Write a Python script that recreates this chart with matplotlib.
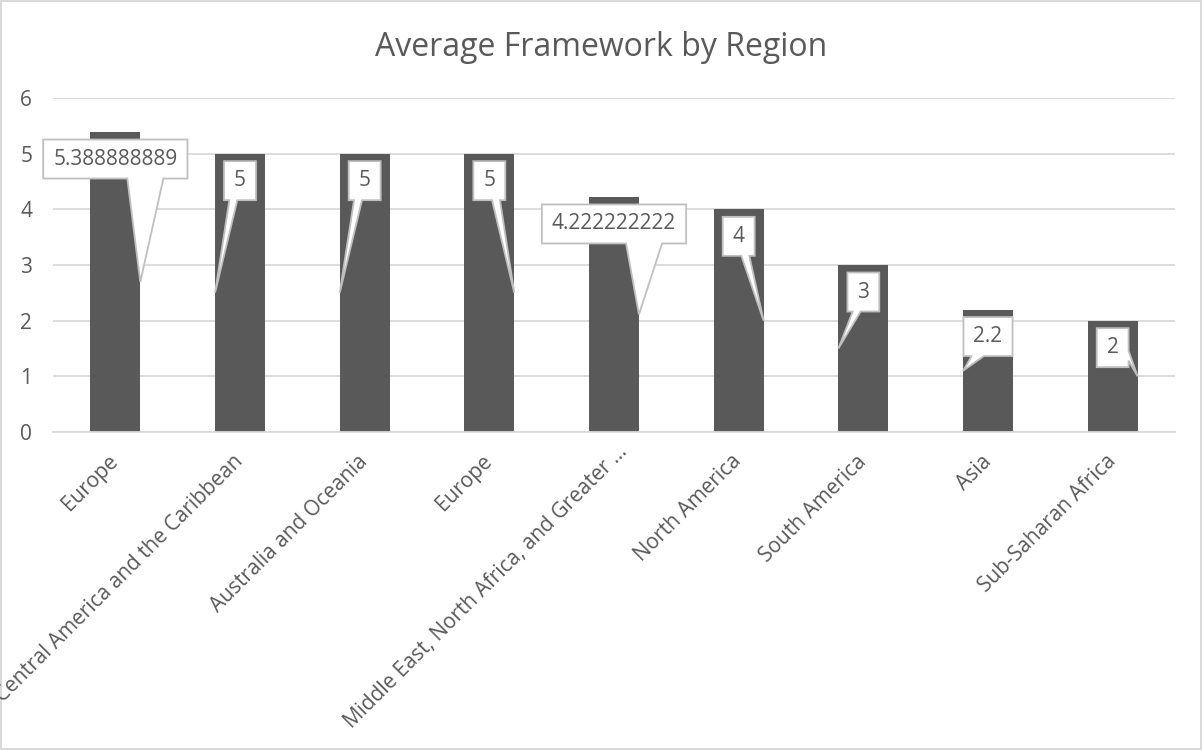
import matplotlib
matplotlib.use("Agg")
import matplotlib.pyplot as plt
import matplotlib.transforms as mtransforms
import numpy as np
from matplotlib.patches import Polygon

plt.rcParams['font.family'] = ['Open Sans', 'DejaVu Sans']

regions = ["Europe", "Central America and the Caribbean", "Australia and Oceania",
           "Europe", "Middle East, North Africa, and Greater ...", "North America",
           "South America", "Asia", "Sub-Saharan Africa"]
avg_framework = [5.388888889, 5, 5, 5, 4.222222222, 4, 3, 2.2, 2]
value_labels = ["5.388888889", "5", "5", "5", "4.222222222", "4", "3", "2.2", "2"]
# which bar edge each callout points at
tip_side = ["right", "left", "left", "right", "right", "right", "left", "left", "right"]

TXT = "#595959"
GRID = "#d9d9d9"
BAR = "#595959"

fig = plt.figure(figsize=(12.02, 7.5), dpi=100)
fig.patch.set_edgecolor(GRID)
fig.patch.set_linewidth(1.5)
ax = fig.add_axes([53/1202, 1-432/750, 1122/1202, 334/750])

x = np.arange(len(regions))
bar_w = 0.4
ax.bar(x, avg_framework, width=bar_w, color=BAR, zorder=2)

ax.set_xlim(-0.5, len(regions)-0.5)
ax.set_ylim(0, 6)
ax.set_yticks(range(0, 7))
ax.yaxis.grid(True, color=GRID, linewidth=1.3, zorder=0)
ax.set_axisbelow(True)
for s in ["top", "right", "left"]:
    ax.spines[s].set_visible(False)
ax.spines["bottom"].set_color(GRID)
ax.spines["bottom"].set_linewidth(1.3)
ax.tick_params(axis="both", length=0, labelsize=15, colors=TXT)
ax.tick_params(axis="y", pad=15)
ax.set_xticks(x)
ax.set_xticklabels(regions, rotation=45, ha="right", va="center", rotation_mode="anchor")
ax.tick_params(axis="x", pad=19)

# the truncated label sits a little further along its slant
long_lab = ax.get_xticklabels()[4]
long_lab.set_transform(long_lab.get_transform() +
                       mtransforms.ScaledTranslation(10/100, 10/100, fig.dpi_scale_trans))

fig.text(0.5, 1-48/750, "Average Framework by Region", ha="center", va="center",
         fontsize=23, color=TXT)

# wedge callouts pointing at the middle of each bar
fig.canvas.draw()
renderer = fig.canvas.get_renderer()
inv = ax.transData.inverted()
box_h = 39
pad = 10
drop = 27
for i, (v, lab, side) in enumerate(zip(avg_framework, value_labels, tip_side)):
    cx, top = ax.transData.transform((i, v))
    cy = top - drop
    t = ax.text(i, v, lab, fontsize=15, color=TXT, ha="center", va="center", zorder=5)
    tw = t.get_window_extent(renderer).width
    w = tw + 2*pad
    L, R = cx - w/2, cx + w/2
    B, T = cy - box_h/2, cy + box_h/2
    ex = i + (bar_w/2 if side == "right" else -bar_w/2)
    tx, ty = ax.transData.transform((ex, v/2))
    dxn = (tx - cx)/w
    dyn = (ty - cy)/box_h
    if abs(dyn) >= abs(dxn):
        # wedge from the bottom edge
        if tx > cx:
            xa, xb = L + w*7/12, L + w*10/12
        else:
            xa, xb = L + w*2/12, L + w*5/12
        pts = [(L, T), (R, T), (R, B), (xb, B), (tx, ty), (xa, B), (L, B)]
    else:
        ya, yb = T - box_h*7/12, T - box_h*10/12
        if tx > cx:
            pts = [(L, T), (R, T), (R, ya), (tx, ty), (R, yb), (R, B), (L, B)]
        else:
            pts = [(L, T), (R, T), (R, B), (L, B), (L, yb), (tx, ty), (L, ya)]
    poly = Polygon(inv.transform(pts), closed=True, facecolor="white",
                   edgecolor="#bfbfbf", linewidth=1.3, zorder=4, clip_on=False)
    ax.add_patch(poly)
    t.set_position(inv.transform((cx, cy)))

fig.savefig("out.png", dpi=100)
